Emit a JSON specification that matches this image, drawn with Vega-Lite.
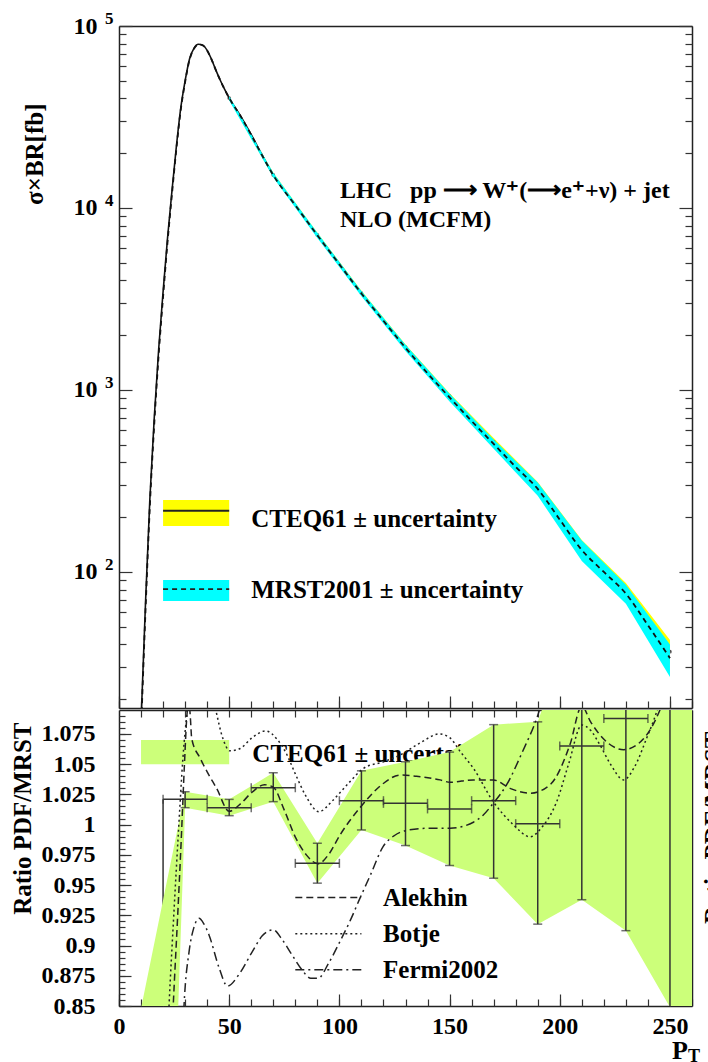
{
  "$schema": "https://vega.github.io/schema/vega-lite/v6.json",
  "autosize": {"type": "none"},
  "padding": {"left": 119, "top": 26, "right": 16, "bottom": 1036},
  "background": "white",
  "spacing": 0,
  "resolve": {"scale": {"strokeDash": "independent", "color": "independent"}},
  "config": {
    "view": {"stroke": null},
    "font": "Liberation Serif",
    "axis": {
      "labelFont": "Liberation Serif", "labelFontWeight": "bold", "labelFontSize": 24, "labelColor": "#000",
      "titleFont": "Liberation Serif", "titleFontWeight": "bold", "titleFontSize": 25, "titleColor": "#000",
      "tickColor": "#333", "tickWidth": 1.2, "domainColor": "#222", "domainWidth": 1.5,
      "grid": false, "zindex": 1, "labelOverlap": false, "labelFlush": false
    },
    "text": {"font": "Liberation Serif", "fontWeight": "bold", "color": "#000"}
  },
  "datasets": {
    "curve": [
      {"x":10,"cteq":15,"mrst":13.5},{"x":12,"cteq":66,"mrst":60},{"x":14,"cteq":252,"mrst":230},{"x":16,"cteq":706,"mrst":650},
      {"x":18,"cteq":1675,"mrst":1560},{"x":20,"cteq":3460,"mrst":3250},{"x":22,"cteq":6790,"mrst":6450},{"x":24,"cteq":12300,"mrst":11800},
      {"x":26,"cteq":21600,"mrst":20900},{"x":28,"cteq":35300,"mrst":34500},{"x":30,"cteq":50000,"mrst":49200},{"x":32,"cteq":65900,"mrst":65200},
      {"x":34,"cteq":75400,"mrst":75000},{"x":36,"cteq":79400,"mrst":79100},{"x":38,"cteq":78500,"mrst":78300},{"x":40,"cteq":73500,"mrst":73300},
      {"x":42,"cteq":65500,"mrst":65400},{"x":44,"cteq":57000,"mrst":57000},{"x":46,"cteq":50200,"mrst":50200},{"x":48,"cteq":44700,"mrst":44700},
      {"x":50,"cteq":40200,"mrst":40200},{"x":55,"cteq":32300,"mrst":32200},{"x":60,"cteq":25300,"mrst":25200},{"x":65,"cteq":19500,"mrst":19400},
      {"x":70,"cteq":15200,"mrst":15150},{"x":80,"cteq":10400,"mrst":10350},{"x":90,"cteq":7110,"mrst":7080},{"x":100,"cteq":4940,"mrst":4900},
      {"x":110,"cteq":3410,"mrst":3390},{"x":120,"cteq":2420,"mrst":2400},{"x":130,"cteq":1722,"mrst":1705},{"x":140,"cteq":1250,"mrst":1235},
      {"x":150,"cteq":925,"mrst":910},{"x":160,"cteq":690,"mrst":675},{"x":170,"cteq":520,"mrst":505},{"x":180,"cteq":392,"mrst":378},
      {"x":190,"cteq":296,"mrst":286},{"x":200,"cteq":205,"mrst":194},{"x":210,"cteq":140,"mrst":132},{"x":220,"cteq":106,"mrst":100},
      {"x":230,"cteq":80.5,"mrst":76},{"x":240,"cteq":55,"mrst":51},{"x":250,"cteq":36.5,"mrst":33.6}
    ],
    "band": [
      {"x":50,"cteq":40200,"clo":39400,"chi":41000,"mlo":39000,"mhi":41200},
      {"x":70,"cteq":15200,"clo":14800,"chi":15600,"mlo":14700,"mhi":15600},
      {"x":90,"cteq":7110,"clo":6920,"chi":7300,"mlo":6850,"mhi":7300},
      {"x":110,"cteq":3410,"clo":3310,"chi":3510,"mlo":3270,"mhi":3500},
      {"x":130,"cteq":1722,"clo":1665,"chi":1780,"mlo":1640,"mhi":1770},
      {"x":150,"cteq":925,"clo":890,"chi":960,"mlo":865,"mhi":955},
      {"x":170,"cteq":520,"clo":495,"chi":545,"mlo":475,"mhi":535},
      {"x":190,"cteq":296,"clo":280,"chi":312,"mlo":262,"mhi":310},
      {"x":210,"cteq":140,"clo":130,"chi":150,"mlo":115,"mhi":149},
      {"x":230,"cteq":80.5,"clo":74,"chi":87,"mlo":67,"mhi":85},
      {"x":250,"cteq":36.5,"clo":31,"chi":42.3,"mlo":26.5,"mhi":40}
    ],
    "uplegend": [
      {"series":"CTEQ61","x1":20,"x2":50,"lo":178.9,"hi":248.7,"mid":217,"tx":60,"ty":177.4,"label":"CTEQ61 ± uncertainty"},
      {"series":"MRST2001","x1":20,"x2":50,"lo":69.3,"hi":90.4,"mid":80.4,"tx":60,"ty":71.9,"label":"MRST2001 ± uncertainty"}
    ],
    "notes": [
      {"label":"LHC\u00a0\u00a0\u00a0pp ⟶ W⁺(⟶e⁺+ν) + jet","x":100.3,"y":11394},
      {"label":"NLO (MCFM)","x":100.3,"y":7894}
    ],
    "exps": [{"v":100,"e":"2"},{"v":1000,"e":"3"},{"v":10000,"e":"4"},{"v":100000,"e":"5"}],
    "ratio": [
      {"x":30,"r":1.0209,"lo":1.014,"hi":1.0272,"xmin":20,"xmax":40},
      {"x":50,"r":1.014,"lo":1.0074,"hi":1.0209,"xmin":40,"xmax":60},
      {"x":70,"r":1.0305,"lo":1.019,"hi":1.0429,"xmin":60,"xmax":80},
      {"x":90,"r":0.968,"lo":0.9516,"hi":0.9846,"xmin":80,"xmax":100},
      {"x":110,"r":1.0198,"lo":0.9956,"hi":1.0445,"xmin":100,"xmax":120},
      {"x":130,"r":1.0176,"lo":0.9827,"hi":1.052,"xmin":120,"xmax":140},
      {"x":150,"r":1.013,"lo":0.9662,"hi":1.06,"xmin":140,"xmax":160},
      {"x":170,"r":1.0198,"lo":0.9557,"hi":1.0827,"xmin":160,"xmax":180},
      {"x":190,"r":1.0008,"lo":0.9177,"hi":1.085,"xmin":180,"xmax":200},
      {"x":210,"r":1.065,"lo":0.9379,"hi":1.19,"xmin":200,"xmax":220},
      {"x":230,"r":1.0877,"lo":0.9123,"hi":1.26,"xmin":220,"xmax":240},
      {"x":250,"r":1.13,"lo":0.849,"hi":1.41,"xmin":240,"xmax":260}
    ],
    "ratioband": [
      {"x":10,"lo":-0.04,"hi":0.848},
      {"x":30,"lo":1.014,"hi":1.0272},
      {"x":50,"lo":1.0074,"hi":1.0209},
      {"x":70,"lo":1.019,"hi":1.0429},
      {"x":90,"lo":0.9516,"hi":0.9846},
      {"x":110,"lo":0.9956,"hi":1.0445},
      {"x":130,"lo":0.9827,"hi":1.052},
      {"x":150,"lo":0.9662,"hi":1.06},
      {"x":170,"lo":0.9557,"hi":1.0827},
      {"x":190,"lo":0.9177,"hi":1.085},
      {"x":210,"lo":0.9379,"hi":1.19},
      {"x":230,"lo":0.9123,"hi":1.26},
      {"x":250,"lo":0.849,"hi":1.41},
      {"x":270,"lo":0.6,"hi":1.6}
    ],
    "step": [{"x":20,"lo":0.85,"hi":1.0209}],
    "lowlegend": [{"label":"CTEQ61 ± uncertainty","x1":10,"x2":50,"lo":1.05,"hi":1.0699,"tx":60.5,"ty":1.0521}],
    "axistitle": [{"main":"P","sub":"T","x":250.9,"y":0.8065,"subx":258.2,"suby":0.804}],
    "sidetitle": [{"label":"Ratio PDF/MRST","x":273.8,"y":1.0769}],
    "pdflegend": [
      {"set":"Alekhin","x1":80,"x2":110,"y":0.9398,"tx":119.8,"ty":0.933},
      {"set":"Botje","x1":80,"x2":110,"y":0.9098,"tx":119.8,"ty":0.9032},
      {"set":"Fermi2002","x1":80,"x2":110,"y":0.88,"tx":119.8,"ty":0.8729}
    ],
    "pdfs": [
      {"set":"Alekhin","x":23,"r":0.78},{"set":"Alekhin","x":24.6,"r":0.85},{"set":"Alekhin","x":26.5,"r":0.92},{"set":"Alekhin","x":28.3,"r":0.99},
      {"set":"Alekhin","x":29.7,"r":1.05},{"set":"Alekhin","x":30.8,"r":1.09},{"set":"Alekhin","x":31.7,"r":1.102},{"set":"Alekhin","x":32.4,"r":1.088},
      {"set":"Alekhin","x":33,"r":1.071},{"set":"Alekhin","x":36.8,"r":1.055},{"set":"Alekhin","x":40.5,"r":1.042},{"set":"Alekhin","x":44.3,"r":1.03},
      {"set":"Alekhin","x":50,"r":1.011},{"set":"Alekhin","x":55,"r":1.017},{"set":"Alekhin","x":60.5,"r":1.027},{"set":"Alekhin","x":66,"r":1.033},
      {"set":"Alekhin","x":70,"r":1.031},{"set":"Alekhin","x":75,"r":1.012},{"set":"Alekhin","x":80.2,"r":0.989},{"set":"Alekhin","x":85,"r":0.975},
      {"set":"Alekhin","x":90.4,"r":0.9676},{"set":"Alekhin","x":95,"r":0.975},{"set":"Alekhin","x":100.3,"r":0.9915},{"set":"Alekhin","x":109.8,"r":1.015},
      {"set":"Alekhin","x":119.9,"r":1.034},{"set":"Alekhin","x":127.5,"r":1.041},{"set":"Alekhin","x":135,"r":1.04},{"set":"Alekhin","x":145.7,"r":1.037},
      {"set":"Alekhin","x":150.2,"r":1.035},{"set":"Alekhin","x":160.8,"r":1.037},{"set":"Alekhin","x":169.8,"r":1.037},{"set":"Alekhin","x":177.4,"r":1.03},
      {"set":"Alekhin","x":186.5,"r":1.026},{"set":"Alekhin","x":195.6,"r":1.033},{"set":"Alekhin","x":204.6,"r":1.066},{"set":"Alekhin","x":210,"r":1.098},
      {"set":"Alekhin","x":214,"r":1.085},{"set":"Alekhin","x":219.8,"r":1.071},{"set":"Alekhin","x":229,"r":1.062},{"set":"Alekhin","x":238,"r":1.071},
      {"set":"Alekhin","x":245.5,"r":1.095},{"set":"Alekhin","x":252,"r":1.13},
      {"set":"Botje","x":21.5,"r":0.8},{"set":"Botje","x":22.7,"r":0.85},{"set":"Botje","x":25,"r":0.93},{"set":"Botje","x":27,"r":0.995},
      {"set":"Botje","x":29,"r":1.055},{"set":"Botje","x":31,"r":1.095},{"set":"Botje","x":33,"r":1.125},{"set":"Botje","x":37,"r":1.14},
      {"set":"Botje","x":41,"r":1.12},{"set":"Botje","x":43.9,"r":1.095},{"set":"Botje","x":47,"r":1.072},{"set":"Botje","x":50.4,"r":1.061},
      {"set":"Botje","x":55,"r":1.063},{"set":"Botje","x":60.5,"r":1.072},{"set":"Botje","x":66.5,"r":1.0775},{"set":"Botje","x":72,"r":1.07},
      {"set":"Botje","x":75.6,"r":1.06},{"set":"Botje","x":80,"r":1.042},{"set":"Botje","x":84.7,"r":1.024},{"set":"Botje","x":90.7,"r":1.0107},
      {"set":"Botje","x":97,"r":1.02},{"set":"Botje","x":104,"r":1.034},{"set":"Botje","x":111,"r":1.0466},{"set":"Botje","x":120,"r":1.052},
      {"set":"Botje","x":127.6,"r":1.0576},{"set":"Botje","x":137,"r":1.068},{"set":"Botje","x":145.3,"r":1.075},{"set":"Botje","x":150,"r":1.072},
      {"set":"Botje","x":155,"r":1.06},{"set":"Botje","x":160.8,"r":1.0466},{"set":"Botje","x":169.8,"r":1.019},{"set":"Botje","x":178.9,"r":1.0},
      {"set":"Botje","x":186.5,"r":0.99},{"set":"Botje","x":192,"r":0.998},{"set":"Botje","x":198.6,"r":1.019},{"set":"Botje","x":204,"r":1.05},
      {"set":"Botje","x":210,"r":1.0824},{"set":"Botje","x":214,"r":1.078},{"set":"Botje","x":218.2,"r":1.066},{"set":"Botje","x":223,"r":1.05},
      {"set":"Botje","x":229,"r":1.037},{"set":"Botje","x":234,"r":1.048},{"set":"Botje","x":239.4,"r":1.0714},{"set":"Botje","x":243.9,"r":1.093},
      {"set":"Botje","x":248,"r":1.12},
      {"set":"Fermi2002","x":29,"r":0.83},{"set":"Fermi2002","x":29.5,"r":0.85},{"set":"Fermi2002","x":31.8,"r":0.895},{"set":"Fermi2002","x":34,"r":0.915},
      {"set":"Fermi2002","x":36.3,"r":0.9225},{"set":"Fermi2002","x":38.5,"r":0.918},{"set":"Fermi2002","x":40.8,"r":0.909},{"set":"Fermi2002","x":45.4,"r":0.8817},
      {"set":"Fermi2002","x":49.2,"r":0.8664},{"set":"Fermi2002","x":54.4,"r":0.876},{"set":"Fermi2002","x":60.5,"r":0.895},{"set":"Fermi2002","x":65,"r":0.908},
      {"set":"Fermi2002","x":69.9,"r":0.913},{"set":"Fermi2002","x":74,"r":0.905},{"set":"Fermi2002","x":78.6,"r":0.892},{"set":"Fermi2002","x":83,"r":0.88},
      {"set":"Fermi2002","x":87,"r":0.873},{"set":"Fermi2002","x":90.4,"r":0.873},{"set":"Fermi2002","x":95,"r":0.885},{"set":"Fermi2002","x":100.3,"r":0.9035},
      {"set":"Fermi2002","x":105,"r":0.921},{"set":"Fermi2002","x":109.3,"r":0.939},{"set":"Fermi2002","x":114,"r":0.958},{"set":"Fermi2002","x":119.9,"r":0.982},
      {"set":"Fermi2002","x":125,"r":0.991},{"set":"Fermi2002","x":130,"r":0.995},{"set":"Fermi2002","x":140,"r":0.997},{"set":"Fermi2002","x":150.2,"r":0.997},
      {"set":"Fermi2002","x":160.8,"r":1.002},{"set":"Fermi2002","x":165.3,"r":1.008},{"set":"Fermi2002","x":169.8,"r":1.0176},{"set":"Fermi2002","x":175.9,"r":1.033},
      {"set":"Fermi2002","x":183,"r":1.06},{"set":"Fermi2002","x":190.3,"r":1.092},{"set":"Fermi2002","x":194,"r":1.115}
    ]
  },
  "vconcat": [
    {
      "width": 573,
      "height": 682,
      "resolve": {"axis": {"x": "independent", "y": "independent"}},
      "layer": [
        {
          "data": {"name": "band"},
          "mark": {"type": "area", "color": "#ffff00", "clip": true},
          "encoding": {
            "x": {"field": "x", "type": "quantitative", "scale": {"domain": [0, 260], "nice": false, "zero": false},
                  "axis": {"orient": "bottom", "values": [0, 50, 100, 150, 200, 250], "tickSize": -12, "labels": false, "title": null, "domain": true}},
            "y": {"field": "clo", "type": "quantitative", "scale": {"type": "log", "domain": [17.89, 100000], "nice": false},
                  "axis": {"orient": "left", "values": [100, 1000, 10000, 100000], "labelExpr": "'10'", "tickSize": -13, "labelPadding": 35,
                           "title": "σ×BR[fb]", "titleX": -77, "titleY": 77, "titleAlign": "right", "titleAngle": -90, "titleBaseline": "alphabetic", "domain": true}},
            "y2": {"field": "chi"}
          }
        },
        {
          "data": {"name": "curve"},
          "mark": {"type": "line", "color": "#111", "strokeWidth": 1.6, "interpolate": "monotone", "clip": true},
          "encoding": {
            "x": {"field": "x", "type": "quantitative", "scale": {"domain": [0, 260], "nice": false, "zero": false},
                  "axis": {"orient": "bottom", "values": [0,10,20,30,40,50,60,70,80,90,100,110,120,130,140,150,160,170,180,190,200,210,220,230,240,250,260], "tickSize": -7, "labels": false, "title": null, "domain": false}},
            "y": {"field": "cteq", "type": "quantitative", "scale": {"type": "log", "domain": [17.89, 100000], "nice": false},
                  "axis": {"orient": "left", "values": [20,30,40,50,60,70,80,90,200,300,400,500,600,700,800,900,2000,3000,4000,5000,6000,7000,8000,9000,20000,30000,40000,50000,60000,70000,80000,90000], "tickSize": -7, "labels": false, "title": null, "domain": false}}
          }
        },
        {
          "data": {"name": "band"},
          "mark": {"type": "point", "filled": true, "size": 14, "color": "#222", "clip": true},
          "encoding": {
            "x": {"field": "x", "type": "quantitative", "scale": {"domain": [0, 260], "nice": false, "zero": false},
                  "axis": {"orient": "top", "ticks": false, "labels": false, "title": null, "domain": true}},
            "y": {"field": "cteq", "type": "quantitative", "scale": {"type": "log", "domain": [17.89, 100000], "nice": false},
                  "axis": {"orient": "right", "values": [100, 1000, 10000, 100000], "tickSize": -13, "labels": false, "title": null, "domain": true}}
          }
        },
        {
          "data": {"name": "band"},
          "mark": {"type": "area", "color": "#00ffff", "clip": true},
          "encoding": {
            "x": {"field": "x", "type": "quantitative", "scale": {"domain": [0, 260], "nice": false, "zero": false}, "axis": null},
            "y": {"field": "mlo", "type": "quantitative", "scale": {"type": "log", "domain": [17.89, 100000], "nice": false},
                  "axis": {"orient": "right", "values": [20,30,40,50,60,70,80,90,200,300,400,500,600,700,800,900,2000,3000,4000,5000,6000,7000,8000,9000,20000,30000,40000,50000,60000,70000,80000,90000], "tickSize": -7, "labels": false, "title": null, "domain": false}},
            "y2": {"field": "mhi"}
          }
        },
        {
          "data": {"name": "curve"},
          "mark": {"type": "line", "color": "#111", "strokeWidth": 1.8, "strokeDash": [5, 4], "interpolate": "monotone", "clip": true},
          "encoding": {
            "x": {"field": "x", "type": "quantitative", "scale": {"domain": [0, 260], "nice": false, "zero": false}, "axis": null},
            "y": {"field": "mrst", "type": "quantitative", "scale": {"type": "log", "domain": [17.89, 100000], "nice": false}, "axis": null}
          }
        },
        {
          "data": {"name": "uplegend"},
          "mark": {"type": "rect"},
          "encoding": {
            "x": {"field": "x1", "type": "quantitative", "scale": {"domain": [0, 260], "nice": false, "zero": false}, "axis": null},
            "x2": {"field": "x2"},
            "y": {"field": "lo", "type": "quantitative", "scale": {"type": "log", "domain": [17.89, 100000], "nice": false}, "axis": null},
            "y2": {"field": "hi"},
            "color": {"field": "series", "type": "nominal", "scale": {"domain": ["CTEQ61", "MRST2001"], "range": ["#ffff00", "#00ffff"]}, "legend": null}
          }
        },
        {
          "data": {"name": "uplegend"},
          "mark": {"type": "rule", "color": "#222", "strokeWidth": 1.8},
          "encoding": {
            "x": {"field": "x1", "type": "quantitative", "scale": {"domain": [0, 260], "nice": false, "zero": false}, "axis": null},
            "x2": {"field": "x2"},
            "y": {"field": "mid", "type": "quantitative", "scale": {"type": "log", "domain": [17.89, 100000], "nice": false}, "axis": null},
            "strokeDash": {"field": "series", "type": "nominal", "scale": {"domain": ["CTEQ61", "MRST2001"], "range": [[1, 0], [5, 4]]}, "legend": null}
          }
        },
        {
          "data": {"name": "uplegend"},
          "mark": {"type": "text", "align": "left", "baseline": "alphabetic", "fontSize": 25},
          "encoding": {
            "x": {"field": "tx", "type": "quantitative", "scale": {"domain": [0, 260], "nice": false, "zero": false}, "axis": null},
            "y": {"field": "ty", "type": "quantitative", "scale": {"type": "log", "domain": [17.89, 100000], "nice": false}, "axis": null},
            "text": {"field": "label"}
          }
        },
        {
          "data": {"name": "notes"},
          "mark": {"type": "text", "align": "left", "baseline": "alphabetic", "fontSize": 24},
          "encoding": {
            "x": {"field": "x", "type": "quantitative", "scale": {"domain": [0, 260], "nice": false, "zero": false}, "axis": null},
            "y": {"field": "y", "type": "quantitative", "scale": {"type": "log", "domain": [17.89, 100000], "nice": false}, "axis": null},
            "text": {"field": "label"}
          }
        },
        {
          "data": {"name": "exps"},
          "mark": {"type": "text", "align": "left", "baseline": "alphabetic", "fontSize": 17, "dx": -14, "dy": -2},
          "encoding": {
            "x": {"datum": 0, "type": "quantitative", "scale": {"domain": [0, 260], "nice": false, "zero": false}, "axis": null},
            "y": {"field": "v", "type": "quantitative", "scale": {"type": "log", "domain": [17.89, 100000], "nice": false}, "axis": null},
            "text": {"field": "e"}
          }
        }
      ]
    },
    {
      "width": 573,
      "height": 296,
      "resolve": {"axis": {"x": "independent", "y": "independent"}},
      "layer": [
        {
          "data": {"name": "lowlegend"},
          "mark": {"type": "text", "align": "left", "baseline": "alphabetic", "fontSize": 25},
          "encoding": {
            "x": {"field": "tx", "type": "quantitative", "scale": {"domain": [0, 260], "nice": false, "zero": false}, "axis": null},
            "y": {"field": "ty", "type": "quantitative", "scale": {"domain": [0.85, 1.0948], "nice": false, "zero": false}, "axis": null},
            "text": {"field": "label"}
          }
        },
        {
          "data": {"name": "step"},
          "mark": {"type": "rule", "color": "#333", "strokeWidth": 1.5, "clip": true},
          "encoding": {
            "x": {"field": "x", "type": "quantitative", "scale": {"domain": [0, 260], "nice": false, "zero": false}, "axis": null},
            "y": {"field": "lo", "type": "quantitative", "scale": {"domain": [0.85, 1.0948], "nice": false, "zero": false}, "axis": null},
            "y2": {"field": "hi"}
          }
        },
        {
          "data": {"name": "ratioband"},
          "mark": {"type": "area", "color": "#ccff7a", "clip": true},
          "encoding": {
            "x": {"field": "x", "type": "quantitative", "scale": {"domain": [0, 260], "nice": false, "zero": false},
                  "axis": {"orient": "bottom", "values": [0, 50, 100, 150, 200, 250], "tickSize": -12, "labelPadding": 20, "title": null, "domain": true}},
            "y": {"field": "lo", "type": "quantitative", "scale": {"domain": [0.85, 1.0948], "nice": false, "zero": false},
                  "axis": {"orient": "left", "values": [0.85, 0.875, 0.9, 0.925, 0.95, 0.975, 1, 1.025, 1.05, 1.075], "format": ".4~g", "tickSize": -12, "labelPadding": 36,
                           "title": "Ratio PDF/MRST", "titleX": -89, "titleY": 12, "titleAlign": "right", "titleAngle": -90, "titleBaseline": "alphabetic", "domain": true}},
            "y2": {"field": "hi"}
          }
        },
        {
          "data": {"name": "lowlegend"},
          "mark": {"type": "rect", "color": "#ccff7a"},
          "encoding": {
            "x": {"field": "x1", "type": "quantitative", "scale": {"domain": [0, 260], "nice": false, "zero": false}, "axis": null},
            "x2": {"field": "x2"},
            "y": {"field": "lo", "type": "quantitative", "scale": {"domain": [0.85, 1.0948], "nice": false, "zero": false}, "axis": null},
            "y2": {"field": "hi"}
          }
        },
        {
          "data": {"name": "ratio"},
          "mark": {"type": "rule", "color": "#333", "strokeWidth": 1.5, "clip": true},
          "encoding": {
            "x": {"field": "x", "type": "quantitative", "scale": {"domain": [0, 260], "nice": false, "zero": false},
                  "axis": {"orient": "bottom", "values": [0,10,20,30,40,50,60,70,80,90,100,110,120,130,140,150,160,170,180,190,200,210,220,230,240,250,260], "tickSize": -7, "labels": false, "title": null, "domain": false}},
            "y": {"field": "lo", "type": "quantitative", "scale": {"domain": [0.85, 1.0948], "nice": false, "zero": false},
                  "axis": {"orient": "left", "values": [0.85,0.855,0.86,0.865,0.87,0.875,0.88,0.885,0.89,0.895,0.9,0.905,0.91,0.915,0.92,0.925,0.93,0.935,0.94,0.945,0.95,0.955,0.96,0.965,0.97,0.975,0.98,0.985,0.99,0.995,1,1.005,1.01,1.015,1.02,1.025,1.03,1.035,1.04,1.045,1.05,1.055,1.06,1.065,1.07,1.075,1.08,1.085,1.09], "tickSize": -6, "labels": false, "title": null, "domain": false}},
            "y2": {"field": "hi"}
          }
        },
        {
          "data": {"name": "ratio"},
          "mark": {"type": "rule", "color": "#333", "strokeWidth": 1.5, "clip": true},
          "encoding": {
            "x": {"field": "xmin", "type": "quantitative", "scale": {"domain": [0, 260], "nice": false, "zero": false},
                  "axis": {"orient": "top", "values": [10,20,30,40,50,60,70,80,90,100,110,120,130,140,150,160,170,180,190,200,210,220,230,240,250], "tickSize": -7, "labels": false, "title": null, "domain": true}},
            "x2": {"field": "xmax"},
            "y": {"field": "r", "type": "quantitative", "scale": {"domain": [0.85, 1.0948], "nice": false, "zero": false},
                  "axis": {"orient": "right", "ticks": false, "labels": false, "title": null, "domain": true}}
          }
        },
        {
          "data": {"name": "ratio"},
          "mark": {"type": "tick", "orient": "horizontal", "color": "#333", "size": 9, "thickness": 1.5, "clip": true},
          "encoding": {
            "x": {"field": "x", "type": "quantitative", "scale": {"domain": [0, 260], "nice": false, "zero": false}, "axis": null},
            "y": {"field": "lo", "type": "quantitative", "scale": {"domain": [0.85, 1.0948], "nice": false, "zero": false}, "axis": null}
          }
        },
        {
          "data": {"name": "ratio"},
          "mark": {"type": "tick", "orient": "horizontal", "color": "#333", "size": 9, "thickness": 1.5, "clip": true},
          "encoding": {
            "x": {"field": "x", "type": "quantitative", "scale": {"domain": [0, 260], "nice": false, "zero": false}, "axis": null},
            "y": {"field": "hi", "type": "quantitative", "scale": {"domain": [0.85, 1.0948], "nice": false, "zero": false}, "axis": null}
          }
        },
        {
          "data": {"name": "ratio"},
          "mark": {"type": "tick", "orient": "vertical", "color": "#333", "size": 9, "thickness": 1.5, "clip": true},
          "encoding": {
            "x": {"field": "xmin", "type": "quantitative", "scale": {"domain": [0, 260], "nice": false, "zero": false}, "axis": null},
            "y": {"field": "r", "type": "quantitative", "scale": {"domain": [0.85, 1.0948], "nice": false, "zero": false}, "axis": null}
          }
        },
        {
          "data": {"name": "ratio"},
          "mark": {"type": "tick", "orient": "vertical", "color": "#333", "size": 9, "thickness": 1.5, "clip": true},
          "encoding": {
            "x": {"field": "xmax", "type": "quantitative", "scale": {"domain": [0, 260], "nice": false, "zero": false}, "axis": null},
            "y": {"field": "r", "type": "quantitative", "scale": {"domain": [0.85, 1.0948], "nice": false, "zero": false}, "axis": null}
          }
        },
        {
          "data": {"name": "pdfs"},
          "mark": {"type": "line", "color": "#222", "strokeWidth": 1.5, "interpolate": "monotone", "clip": true},
          "encoding": {
            "x": {"field": "x", "type": "quantitative", "scale": {"domain": [0, 260], "nice": false, "zero": false}, "axis": null},
            "y": {"field": "r", "type": "quantitative", "scale": {"domain": [0.85, 1.0948], "nice": false, "zero": false}, "axis": null},
            "strokeDash": {"field": "set", "type": "nominal", "scale": {"domain": ["Alekhin", "Botje", "Fermi2002"], "range": [[7, 4], [2, 3], [9, 4, 2, 4]]}, "legend": null}
          }
        },
        {
          "data": {"name": "pdflegend"},
          "mark": {"type": "rule", "color": "#222", "strokeWidth": 1.5},
          "encoding": {
            "x": {"field": "x1", "type": "quantitative", "scale": {"domain": [0, 260], "nice": false, "zero": false}, "axis": null},
            "x2": {"field": "x2"},
            "y": {"field": "y", "type": "quantitative", "scale": {"domain": [0.85, 1.0948], "nice": false, "zero": false}, "axis": null},
            "strokeDash": {"field": "set", "type": "nominal", "scale": {"domain": ["Alekhin", "Botje", "Fermi2002"], "range": [[7, 4], [2, 3], [9, 4, 2, 4]]}, "legend": null}
          }
        },
        {
          "data": {"name": "pdflegend"},
          "mark": {"type": "text", "align": "left", "baseline": "alphabetic", "fontSize": 25},
          "encoding": {
            "x": {"field": "tx", "type": "quantitative", "scale": {"domain": [0, 260], "nice": false, "zero": false}, "axis": null},
            "y": {"field": "ty", "type": "quantitative", "scale": {"domain": [0.85, 1.0948], "nice": false, "zero": false}, "axis": null},
            "text": {"field": "set"}
          }
        },
        {
          "data": {"name": "axistitle"},
          "mark": {"type": "text", "align": "left", "baseline": "alphabetic", "fontSize": 26},
          "encoding": {
            "x": {"field": "x", "type": "quantitative", "scale": {"domain": [0, 260], "nice": false, "zero": false}, "axis": null},
            "y": {"field": "y", "type": "quantitative", "scale": {"domain": [0.85, 1.0948], "nice": false, "zero": false}, "axis": null},
            "text": {"field": "main"}
          }
        },
        {
          "data": {"name": "axistitle"},
          "mark": {"type": "text", "align": "left", "baseline": "alphabetic", "fontSize": 18},
          "encoding": {
            "x": {"field": "subx", "type": "quantitative", "scale": {"domain": [0, 260], "nice": false, "zero": false}, "axis": null},
            "y": {"field": "suby", "type": "quantitative", "scale": {"domain": [0.85, 1.0948], "nice": false, "zero": false}, "axis": null},
            "text": {"field": "sub"}
          }
        },
        {
          "data": {"name": "sidetitle"},
          "mark": {"type": "text", "align": "right", "baseline": "alphabetic", "fontSize": 25, "angle": 270},
          "encoding": {
            "x": {"field": "x", "type": "quantitative", "scale": {"domain": [0, 260], "nice": false, "zero": false}, "axis": null},
            "y": {"field": "y", "type": "quantitative", "scale": {"domain": [0.85, 1.0948], "nice": false, "zero": false}, "axis": null},
            "text": {"field": "label"}
          }
        }
      ]
    }
  ]
}
